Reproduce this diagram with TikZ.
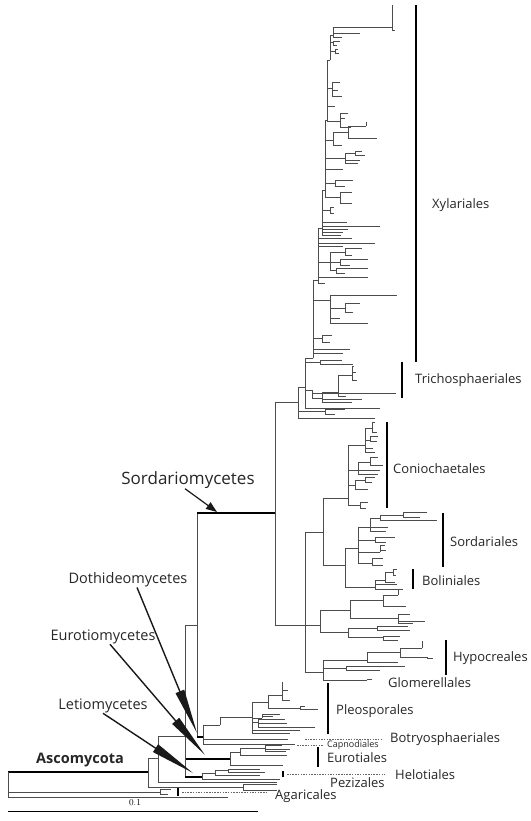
\documentclass[tikz,border=0pt]{standalone}
\usepackage{fontspec}
\newfontfamily\lblfont{Open Sans}
\usetikzlibrary{arrows.meta}

\tikzset{
  br/.style={draw=black!70, line width=0.6pt},
  thk/.style={draw=black, line width=1.5pt},
  cbar/.style={draw=black, line width=1.4pt},
  dotline/.style={draw=black!60, line width=0.6pt, dash pattern=on 1.5pt off 1.2pt},
  ord/.style={font=\lblfont\fontsize{13}{15}\selectfont, anchor=west, inner sep=0pt, text=black!85},
  cls/.style={font=\lblfont\fontsize{14.5}{16}\selectfont, inner sep=0pt, text=black!85},
  wedge/.style={draw=black!90, line width=1.4pt, -{Triangle[length=45pt,width=9pt]}},
}

\begin{document}
\begin{tikzpicture}[x=1pt,y=-1pt]
  \useasboundingbox (0,0) rectangle (530,821);

  % backbone
  \coordinate (root) at (8,772);
  \coordinate (asco) at (148,772);
  \coordinate (b1) at (158,758);
  \coordinate (c1) at (185,736);
  \coordinate (d1) at (197,625);
  \coordinate (sord) at (275,513);
  \coordinate (doth) at (203,737);
  \coordinate (euro) at (230,759);
  \coordinate (letio) at (202,777);
  \coordinate (xt) at (298,402);
  \coordinate (xt2) at (305,387);
  \coordinate (hy) at (305,625);

  \draw[thk] (root) -- (asco);
  \draw[br] (root) |- (228,797);
  \draw[br] (root) |- (160,792);
  \draw[br] (160,792) |- (171,789);
  \draw[br] (160,792) |- (168,794);
  \draw[br] (asco) |- (b1);
  \draw[br] (asco) |- (243,787);
  \draw[br] (243,787) |- (277,784);
  \draw[br] (243,787) |- (277,790);
  \draw[br] (b1) |- (c1);
  \draw[br] (b1) |- (277,782);
  \draw[br] (c1) |- (d1);
  \draw[br] (c1) |- (euro);
  \draw[thk] (euro -| c1) -- (euro);
  \draw[br] (c1) |- (letio);
  \draw[thk] (letio -| c1) -- (letio);
  \draw[br] (d1) |- (sord);
  \draw[thk] (sord -| d1) -- (sord);
  \draw[br] (d1) |- (doth);
  \draw[thk] (doth -| d1) -- (doth);
  \draw[br] (sord) |- (xt);
  \draw[br] (sord) |- (hy);
  \draw[br] (xt) |- (xt2);

  % Xylariales and Trichosphaeriales
  \foreach \a/\b/\c/\d in {
    298/402/375/418, 298/402/325/411, 325/411/345/409, 325/411/335/414,
    305/387/313/358, 305/387/320/362, 320/362/342/360, 320/362/353/364,
    305/387/312/390, 312/390/396/393, 312/390/322/398, 322/398/338/392,
    338/392/352/375, 352/375/354/366, 352/375/356/372, 352/375/357/380,
    338/392/346/396, 322/398/362/399, 322/398/352/402, 305/387/380/408,
    313/358/318/280, 318/280/322/228, 322/228/325/190, 325/190/327/120,
    327/120/330/60, 330/60/333/35, 333/35/335/27, 335/27/392/27,
    392/27/393/5, 392/27/395/30, 333/35/360/33, 333/35/342/37,
    330/60/333/42, 333/42/340/41, 333/42/337/45, 330/60/335/51,
    335/51/338/49, 335/51/339/53,
    327/120/332/88, 332/88/340/82, 332/88/338/90, 332/88/342/96,
    327/120/335/106, 327/120/340/121, 340/121/348/113, 340/121/345/118,
    340/121/351/127,
    325/190/333/140, 333/140/348/132, 348/132/366/126, 366/126/367/122,
    348/132/377/138, 333/140/342/145, 325/190/345/158, 345/158/355/153,
    355/153/362/151, 355/153/365/155, 345/158/360/160, 345/158/358/163,
    325/190/343/169, 325/190/335/183, 335/183/353/180, 335/183/345/186,
    325/190/340/197, 340/197/352/192, 340/197/352/203,
    322/228/330/210, 330/210/334/207, 330/210/334/213, 322/228/347/222,
    322/228/380/226, 322/228/348/229, 322/228/343/232, 322/228/341/235,
    318/280/352/238, 318/280/375/243, 318/280/343/246, 318/280/330/262,
    330/262/345/252, 345/252/362/248, 345/252/352/255, 330/262/340/262,
    340/262/368/259, 340/262/350/265, 330/262/336/270, 336/270/368/268,
    336/270/345/273, 318/280/368/277, 318/280/325/283,
    313/358/330/300, 330/300/397/295, 330/300/345/308, 345/308/360/303,
    345/308/353/312, 330/300/368/323, 330/300/340/318, 313/358/343/353,
    313/358/350/349, 313/358/322/338, 322/338/332/335, 322/338/330/342}
    \draw[br] (\a,\b) |- (\c,\d);

  % Coniochaetales, Sordariales, Boliniales and the rest
  \foreach \a/\b/\c/\d in {
    305/625/323/532, 323/532/348/498, 348/498/360/505, 360/505/368/502,
    360/505/366/508, 348/498/355/485, 355/485/365/480, 365/480/375/477,
    365/480/372/482, 355/485/368/489, 348/498/358/470, 358/470/370/462,
    370/462/378/457, 370/462/383/465, 358/470/380/470, 358/470/378/474,
    348/498/365/445, 365/445/370/440, 370/440/378/436, 370/440/377/441,
    365/445/373/448, 365/445/375/452, 365/445/372/428, 372/428/375/422,
    372/428/377/432,
    323/532/345/565, 345/565/358/548, 358/548/370/527, 370/527/380/518,
    380/518/403/515, 403/515/427/512, 403/515/420/517, 380/518/437/520,
    370/527/388/527, 370/527/386/531, 358/548/375/540, 375/540/395/537,
    375/540/386/542, 358/548/380/552, 380/552/385/545, 380/552/386/550,
    358/548/372/563, 372/563/383/558, 372/563/383/565,
    345/565/375/587, 375/587/385/580, 385/580/393/572, 393/572/397/569,
    393/572/396/575, 385/580/395/582, 375/587/397/584, 375/587/403/589,
    305/625/320/625, 320/625/350/610, 350/610/383/600, 383/600/398/595,
    398/595/399/590, 383/600/406/606, 350/610/398/618, 398/618/410/614,
    398/618/425/621, 398/618/413/623, 320/625/348/632, 348/632/377/628,
    377/628/408/626, 377/628/410/630, 348/632/383/637, 383/637/400/636,
    383/637/398/640,
    305/625/323/672, 323/672/367/660, 367/660/400/652, 400/652/422/648,
    422/648/423/641, 400/652/427/657, 427/657/433/658, 367/660/398/662,
    323/672/346/668, 346/668/405/666, 346/668/380/670, 323/672/367/680,
    367/680/372/679}
    \draw[br] (\a,\b) |- (\c,\d);

  % Dothideomycetes, Eurotiomycetes, Letiomycetes
  \foreach \a/\b/\c/\d in {
    203/737/220/725, 220/725/252/717, 252/717/268/702, 268/702/282/695,
    282/695/283/682, 282/695/288/690, 282/695/290/700, 268/702/300/708,
    300/708/318/709, 300/708/305/706, 252/717/262/718, 262/718/280/714,
    262/718/273/716, 252/717/258/722, 258/722/285/719, 258/722/287/723,
    258/722/315/727, 252/717/300/730, 252/717/290/733, 203/737/288/739,
    203/737/295/744,
    230/759/240/752, 240/752/265/748, 265/748/282/745, 265/748/290/749,
    265/748/286/751, 240/752/287/755, 230/759/283/765,
    202/777/215/773, 215/773/228/770, 228/770/260/769, 228/770/265/772,
    215/773/260/775, 202/777/280/779}
    \draw[br] (\a,\b) |- (\c,\d);

  % order bars and dotted leaders
  \draw[cbar] (416,5) -- (416,362);
  \draw[cbar] (402,362) -- (402,398);
  \draw[cbar] (387,422) -- (387,508);
  \draw[cbar] (443,513) -- (443,567);
  \draw[cbar] (413,569) -- (413,589);
  \draw[cbar] (446,640) -- (446,675);
  \draw[cbar] (328,683) -- (328,734);
  \draw[cbar] (318,747) -- (318,767);
  \draw[cbar] (283,771) -- (283,777);
  \draw[cbar] (178,788) -- (178,796);
  \draw[dotline] (305,739) -- (382,739);
  \draw[dotline] (297,745) -- (323,745);
  \draw[dotline] (287,774) -- (385,774);
  \draw[dotline] (182,792) -- (268,792);

  % order labels
  \node[ord] (xyl) at (432,205) {Xylariales};
  \node[ord] (tri) at (415,380) {Trichosphaeriales};
  \node[ord] (con) at (393,469) {Coniochaetales};
  \node[ord] (sor) at (450,542) {Sordariales};
  \node[ord] (bol) at (422,581) {Boliniales};
  \node[ord] (hyp) at (453,658) {Hypocreales};
  \node[ord] (glo) at (388,683) {Glomerellales};
  \node[ord] (ple) at (336,711) {Pleosporales};
  \node[ord] (bot) at (390,739) {Botryosphaeriales};
  \node[ord, font=\lblfont\fontsize{9}{10}\selectfont] (cap) at (327,745) {Capnodiales};
  \node[ord] (eur) at (327,758) {Eurotiales};
  \node[ord] (hel) at (395,775) {Helotiales};
  \node[ord] (pez) at (330,783) {Pezizales};
  \node[ord] (aga) at (275,796) {Agaricales};

  % class labels and pointers
  \node[cls, font=\lblfont\fontsize{17}{19}\selectfont] (sordl) at (188,480) {Sordariomycetes};
  \node[cls] (dothl) at (128,580) {Dothideomycetes};
  \node[cls] (eurol) at (103,637) {Eurotiomycetes};
  \node[cls] (letiol) at (103,706) {Letiomycetes};
  \node[cls, font=\lblfont\bfseries\fontsize{14.5}{16}\selectfont] (ascol) at (80,760) {Ascomycota};
  \coordinate (sordt) at (217,512);
  \coordinate (dotht) at (197,733);
  \coordinate (eurot) at (205,755);
  \coordinate (letiot) at (193,773);
  \draw[draw=black!90, line width=1.2pt, -{Triangle[length=11pt,width=8pt]}] ([xshift=-3pt]sordl.south) -- (sordt);
  \draw[wedge] ([xshift=9pt]dothl.south) -- (dotht);
  \draw[wedge] ([xshift=7pt]eurol.south) -- (eurot);
  \draw[wedge] ([xshift=0pt]letiol.south) -- (letiot);

  % scale
  \coordinate (sc1) at (8,811);
  \coordinate (sc2) at (258,811);
  \draw[br, draw=black] (sc1) -- (sc2);
  \node[font=\fontsize{9}{10}\selectfont, inner sep=0pt] (scl) at (135,803) {0.1};
\end{tikzpicture}
\end{document}
